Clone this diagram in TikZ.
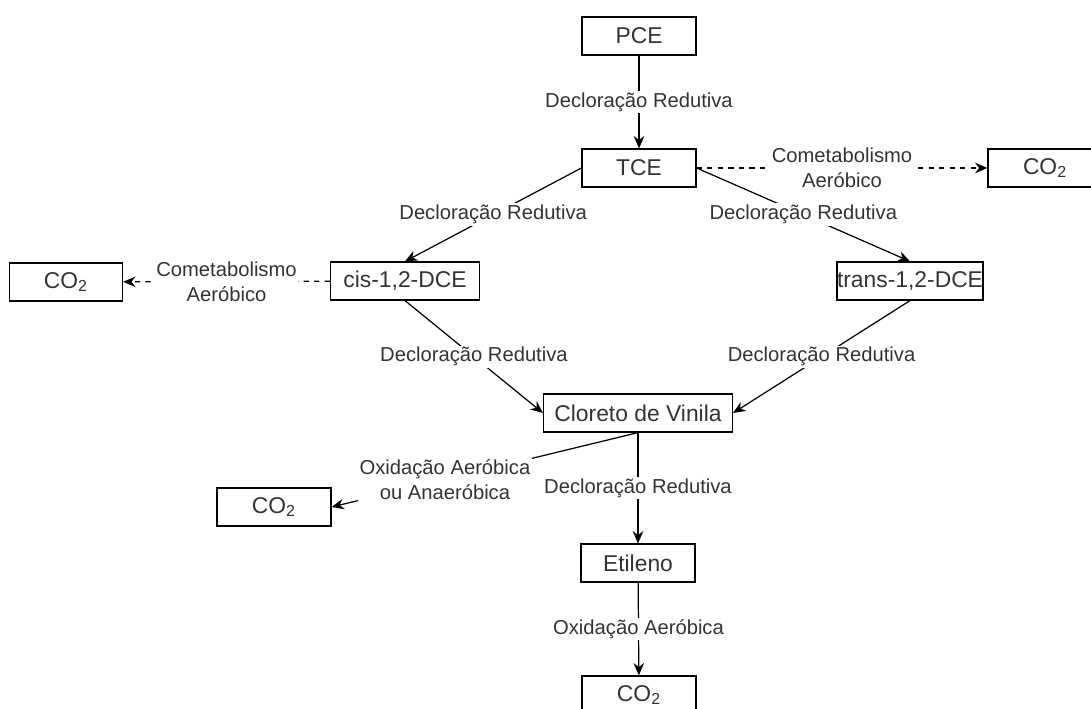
\documentclass[tikz,border=0pt]{standalone}
\usepackage{fontspec}
\setmainfont{Liberation Sans}
\usepackage{xcolor}
\definecolor{txtcinza}{RGB}{51, 51, 51}
\usetikzlibrary{arrows.meta}

\begin{document}
\begin{tikzpicture}[x=0.02cm, y=-0.02cm, >={Stealth[length=7pt, width=6pt]},
    caixa/.style={draw, line width=0.7pt, minimum width=#1, minimum height=0.76cm,
        inner sep=0pt, font=\fontsize{13}{15}\selectfont, text=txtcinza},
    caixa/.default=2.28cm,
    rotulo/.style={fill=white, inner sep=1pt, align=center,
        font=\fontsize{11.5}{14}\selectfont, text=txtcinza},
    seta/.style={->, line width=0.7pt},
    tracejada/.style={->, line width=0.7pt, dashed}]

\clip (0, 0) rectangle (1091, 709);

% =====================================================
% CAIXAS: compostos
% =====================================================

\node[caixa] (pce) at (639, 36) {PCE};
\node[caixa] (tce) at (639, 168) {TCE};
\node[caixa] (co2dir) at (1045, 168) {CO\textsubscript{2}};

\node[caixa=2.98cm] (cis) at (405, 281) {cis-1,2-DCE};
\node[caixa=2.9cm] (trans) at (910, 281) {trans-1,2-DCE};
\node[caixa=2.26cm] (co2esq) at (66, 282) {CO\textsubscript{2}};

\node[caixa=3.78cm] (cv) at (638, 413) {Cloreto de Vinila};
\node[caixa] (co2meio) at (274, 507) {CO\textsubscript{2}};

\node[caixa] (etileno) at (638, 563) {Etileno};
\node[caixa] (co2fim) at (639, 695) {CO\textsubscript{2}};

% =====================================================
% SETAS: rotas de degradação
% =====================================================

% --- PCE -> TCE ---
\draw[seta] (pce) -- node[rotulo] {Decloração Redutiva} (tce);

% --- TCE -> CO2 / DCEs ---
\draw[tracejada] (tce) -- node[rotulo] {Cometabolismo\\Aeróbico} (co2dir);
\draw[seta] (tce.east) -- node[rotulo] {Decloração Redutiva} (trans.north);
\draw[seta] (tce.west) -- node[rotulo] {Decloração Redutiva} (cis.north);

% --- DCEs -> Cloreto de Vinila ---
\draw[tracejada] (cis) -- node[rotulo] {Cometabolismo\\Aeróbico} (co2esq);
\draw[seta] (cis.south) -- node[rotulo] {Decloração Redutiva} (cv.west);
\draw[seta] (trans.south) -- node[rotulo] {Decloração Redutiva} (cv.east);

% --- Cloreto de Vinila -> CO2 / Etileno ---
\draw[seta] (cv.south) -- node[rotulo, pos=0.63] {Oxidação Aeróbica\\ou Anaeróbica} (co2meio.east);
\draw[seta] (cv) -- node[rotulo] {Decloração Redutiva} (etileno);

% --- Etileno -> CO2 ---
\draw[seta] (etileno) -- node[rotulo] {Oxidação Aeróbica} (co2fim);

\end{tikzpicture}
\end{document}
